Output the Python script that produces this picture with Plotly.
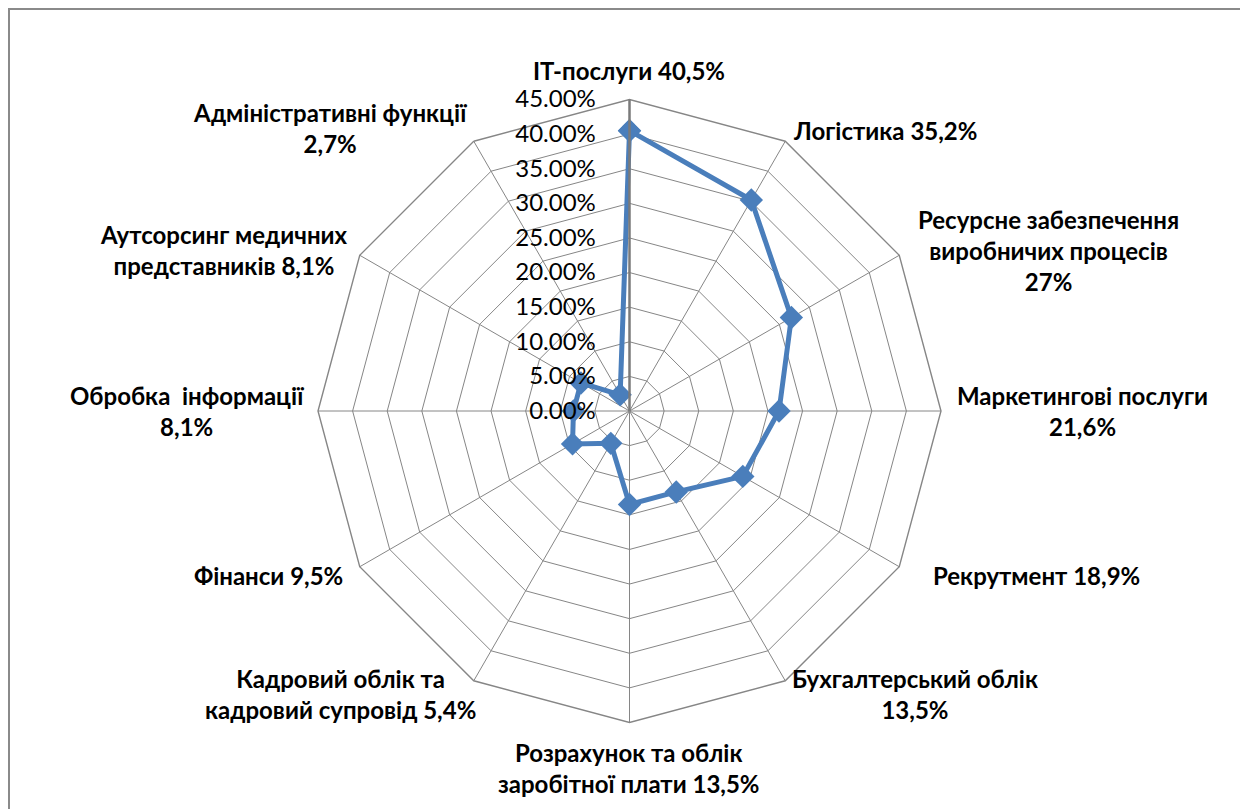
import plotly.graph_objects as go

# categories, clockwise from the top
categories = [
    "IT-послуги", "Логістика", "Ресурсне забезпечення виробничих процесів",
    "Маркетингові послуги", "Рекрутмент", "Бухгалтерський облік",
    "Розрахунок та облік заробітної плати", "Кадровий облік та кадровий супровід",
    "Фінанси", "Обробка інформації", "Аутсорсинг медичних представників",
    "Адміністративні функції",
]
shares = [0.405, 0.352, 0.27, 0.216, 0.189, 0.135, 0.135, 0.054, 0.095, 0.081, 0.081, 0.027]

label_texts = [
    "IT-послуги 40,5%",
    "Логістика 35,2%",
    "Ресурсне забезпечення<br>виробничих процесів<br>27%",
    "Маркетингові послуги<br>21,6%",
    "Рекрутмент 18,9%",
    "Бухгалтерський облік<br>13,5%",
    "Розрахунок та облік<br>заробітної плати 13,5%",
    "Кадровий облік та<br>кадровий супровід 5,4%",
    "Фінанси 9,5%",
    "Обробка  інформації<br>8,1%",
    "Аутсорсинг медичних<br>представників 8,1%",
    "Адміністративні функції<br>2,7%",
]

W, H = 1240, 801
OFF = 8  # page body margin
# label centres in window pixels
label_pos = [
    (629, 71), (885, 130), (1048, 250), (1082, 411), (1036, 575), (915, 694),
    (629, 768), (340, 694), (268, 575), (187, 411), (224, 250), (330, 128),
]


def to_paper(px, py):
    return (px - OFF) / W, 1 - (py - OFF) / H


GRID = "#868686"
BLUE = "#4a7ebb"

fig = go.Figure()
fig.add_trace(go.Scatterpolar(
    r=shares + shares[:1],
    theta=categories + categories[:1],
    mode="lines+markers",
    line=dict(color=BLUE, width=5),
    marker=dict(symbol="diamond", size=18, color=BLUE),
    showlegend=False,
))

for (px, py), txt in zip(label_pos, label_texts):
    x, y = to_paper(px, py)
    fig.add_annotation(
        x=x, y=y, xref="paper", yref="paper",
        text=txt, showarrow=False, align="center",
        xanchor="center", yanchor="middle",
        font=dict(family="Lato", size=24, color="black", weight="bold"),
    )

fig.add_shape(
    type="rect", xref="paper", yref="paper",
    x0=1 / W, x1=1.02, y0=-0.02, y1=1 - 1 / H,
    line=dict(color="#8a8a8a", width=2),
)

x0, y1 = to_paper(318, 99.5)
x1, y0 = to_paper(941, 722.5)

fig.update_layout(
    width=W, height=H,
    margin=dict(l=0, r=0, t=0, b=0),
    paper_bgcolor="white",
    font=dict(family="Lato", color="black"),
    polar=dict(
        domain=dict(x=[x0, x1], y=[y0, y1]),
        bgcolor="white",
        gridshape="linear",
        radialaxis=dict(
            range=[0, 0.45], dtick=0.05, tickformat=".2%",
            angle=90, side="counterclockwise", tickangle=90,
            showline=True, linecolor="#7a7a7a", linewidth=2.5,
            gridcolor=GRID, gridwidth=1.4,
            ticks="outside", ticklen=24, tickcolor="rgba(0,0,0,0)",
            tickfont=dict(family="Lato", size=24, color="black"),
        ),
        angularaxis=dict(
            rotation=90, direction="clockwise",
            showticklabels=False, ticks="",
            showline=True, linecolor=GRID, linewidth=1.4,
            gridcolor=GRID, gridwidth=1.4,
        ),
    ),
)

fig.write_html("out.html")
